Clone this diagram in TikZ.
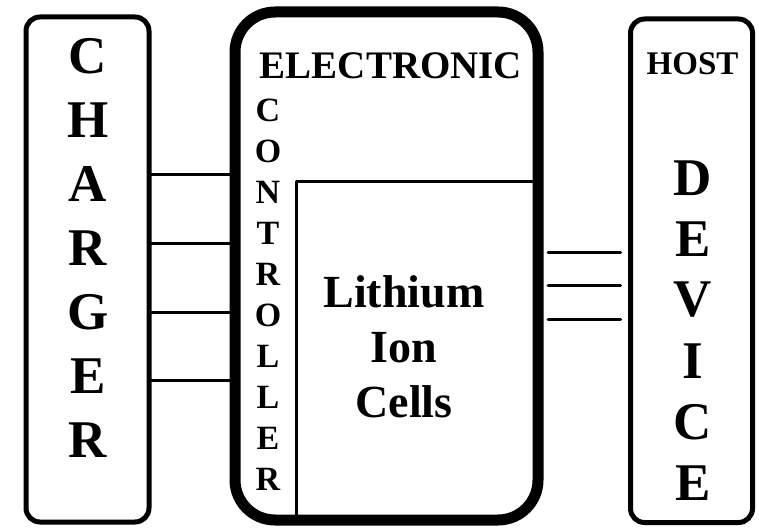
\documentclass[tikz,border=0pt]{standalone}
\usepackage{fontspec}
\setmainfont{Liberation Serif}
\usetikzlibrary{calc,positioning}
\tikzset{
  every picture/.append style={line cap=round,line join=round},
  bat box/.style={draw=black,line width=5pt,rounded corners=14pt,outer sep=0pt,inner sep=0pt},
  bat pack/.style={draw=black,line width=11pt,rounded corners=40pt,outer sep=0pt,inner sep=0pt},
  bat divider/.style={line width=3pt},
  bat link/.style={line width=3pt},
  bat letter/.style={font=\fontsize{53}{53}\selectfont\bfseries,inner sep=0pt},
  bat small letter/.style={font=\fontsize{34}{34}\selectfont\bfseries,inner sep=0pt},
  bat title/.style={font=\fontsize{39}{39}\selectfont\bfseries,inner sep=0pt},
  bat host/.style={font=\fontsize{33}{33}\selectfont\bfseries,inner sep=0pt},
  bat cells/.style={font=\fontsize{46}{55}\selectfont\bfseries,align=center,inner sep=0pt}
}
\begin{document}
\begin{tikzpicture}[x=1pt,y=-1pt]
  \useasboundingbox (0,0) rectangle (759,529);
  \node[bat box,minimum width=123pt,minimum height=505pt] (charger) at (87.5,269.5) {};
  \node[bat pack,minimum width=303pt,minimum height=508pt] (pack) at (386.5,266) {};
  \node[bat box,minimum width=122pt,minimum height=503.5pt] (host) at (691.5,270.75) {};
  % cell compartment
  \coordinate (cellcorner) at (296.5,182);
  \draw[bat divider] (pack.south -| cellcorner) -- (cellcorner) -- (cellcorner -| pack.east);
  % connectors
  \foreach \y in {175,243,312,380}
    \draw[bat link] (charger.east |- 0,\y) -- (pack.west |- 0,\y);
  \foreach \y in {252,285,319}
    \draw[bat link] ($(pack.east |- 0,\y)+(10,0)$) -- ($(host.west |- 0,\y)+(-10,0)$);
  % labels
  \foreach \ch [count=\i] in {C,H,A,R,G,E,R}
    \node[bat letter] (charger-\i) at (88,{56+64*(\i-1)}) {\ch};
  \node[bat title] (ctrl-title) at (391,66) {ELECTRONIC};
  \foreach \ch [count=\i] in {C,O,N,T,R,O,L,L,E,R}
    \node[bat small letter] (ctrl-\i) at (268,{110+41*(\i-1)}) {\ch};
  \node[bat cells] (cells) at (404,347) {Lithium\\Ion\\Cells};
  \node[bat host] (host-title) at (692.5,64) {HOST};
  \foreach \ch [count=\i] in {D,E,V,I,C,E}
    \node[bat letter] (host-\i) at (693,{178+61*(\i-1)}) {\ch};
\end{tikzpicture}
\end{document}
